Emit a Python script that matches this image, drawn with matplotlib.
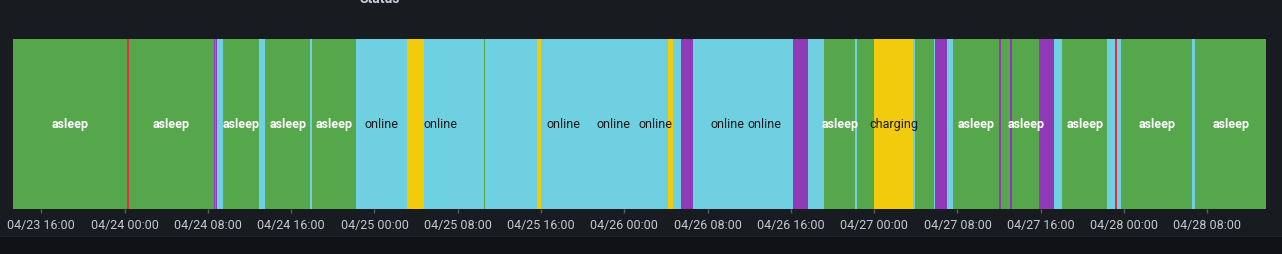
import pandas as pd
import matplotlib
matplotlib.use("Agg")
import matplotlib.pyplot as plt
import matplotlib.dates as mdates

# state timeline (start of each state), year assumed
starts = [
    "04-23 13:17", "04-24 00:16", "04-24 00:25", "04-24 08:35", "04-24 08:41",
    "04-24 08:47", "04-24 08:51", "04-24 09:27", "04-24 12:55", "04-24 13:29",
    "04-24 17:49", "04-24 18:00", "04-24 22:14", "04-25 03:07", "04-25 04:45",
    "04-25 10:31", "04-25 10:37", "04-25 15:38", "04-25 16:00", "04-26 04:12",
    "04-26 04:40", "04-26 05:27", "04-26 06:36", "04-26 16:12", "04-26 17:38",
    "04-26 19:11", "04-26 22:09", "04-26 22:21", "04-27 00:00", "04-27 03:44",
    "04-27 03:55", "04-27 05:45", "04-27 05:50", "04-27 07:00", "04-27 07:34",
    "04-27 12:00", "04-27 12:11", "04-27 13:03", "04-27 13:14", "04-27 15:50",
    "04-27 17:16", "04-27 18:02", "04-27 22:22", "04-27 23:08", "04-27 23:19",
    "04-27 23:42", "04-28 06:31", "04-28 06:49",
]
states = [
    "asleep", "offline", "asleep", "driving", "asleep",
    "driving", "online", "asleep", "online", "asleep",
    "online", "asleep", "online", "charging", "online",
    "asleep", "online", "charging", "online", "charging",
    "online", "driving", "online", "driving", "online",
    "asleep", "online", "asleep", "charging", "online",
    "asleep", "online", "driving", "online", "asleep",
    "driving", "asleep", "driving", "asleep", "driving",
    "online", "asleep", "online", "offline", "online",
    "asleep", "online", "asleep",
]
end_time = "04-28 13:38"

label_times = [
    "04-23 18:45", "04-24 04:30", "04-24 11:11", "04-24 15:42", "04-24 20:07",
    "04-25 00:43", "04-25 06:18", "04-25 18:07", "04-25 23:00", "04-26 02:57",
    "04-26 09:52", "04-26 13:25", "04-26 20:43", "04-27 01:54", "04-27 09:47",
    "04-27 14:33", "04-27 20:15", "04-28 03:10", "04-28 10:16",
]
label_texts = [
    "asleep", "asleep", "asleep", "asleep", "asleep",
    "online", "online", "online", "online", "online",
    "online", "online", "asleep", "charging", "asleep",
    "asleep", "asleep", "asleep", "asleep",
]

colors = {"asleep": "#56a64b", "online": "#6ed0e0", "charging": "#f2cc0c",
          "driving": "#8f3bb8", "offline": "#e02f44"}
text_colors = {"asleep": "#ffffff", "online": "#1a1a1a", "charging": "#1a1a1a"}

def to_dt(s):
    return pd.Timestamp("2023-" + s)

t_start = [to_dt(s) for s in starts]
t_end = t_start[1:] + [to_dt(end_time)]

bg = "#181b1f"
plt.rcParams['font.family'] = ['Roboto', 'DejaVu Sans']

fig = plt.figure(figsize=(12.82, 2.55), dpi=100, facecolor=bg)
fig.patches.append(plt.Rectangle((0, 0), 1, 17 / 255, transform=fig.transFigure,
                                 facecolor="#111217", edgecolor="none"))
fig.patches.append(plt.Rectangle((0, 17 / 255), 1, 1 / 255, transform=fig.transFigure,
                                 facecolor="#202226", edgecolor="none"))
# panel title, mostly scrolled out of view
fig.text(380 / 1282, 1.005, "Status", color="#ccccdc", fontsize=10, fontweight="bold",
         ha="center", va="center")

ax = fig.add_axes([13 / 1282, 45.5 / 255, 1253 / 1282, 170 / 255])
ax.set_facecolor(bg)

left = mdates.date2num(t_start)
width = mdates.date2num(t_end) - left
ax.barh(0, width, left=left, height=1.0, color=[colors[s] for s in states],
        linewidth=0)

for t, txt in zip(label_times, label_texts):
    ax.text(mdates.date2num(to_dt(t)), 0, txt, ha="center", va="center",
            fontsize=9, color=text_colors[txt],
            fontweight="bold" if txt == "asleep" else "normal")

ax.set_xlim(left[0], mdates.date2num(t_end[-1]))
ax.set_ylim(-0.5, 0.5)
ax.xaxis.set_major_locator(mdates.HourLocator(byhour=[0, 8, 16]))
ax.xaxis.set_major_formatter(mdates.DateFormatter("%m/%d %H:%M"))
ax.tick_params(axis="x", colors="#5a5d63", labelcolor="#c7c8d0", length=3,
               width=1, labelsize=9, pad=3.5)
ax.set_yticks([])
for sp in ax.spines.values():
    sp.set_visible(False)

fig.savefig("out.png", dpi=100, facecolor=bg)
